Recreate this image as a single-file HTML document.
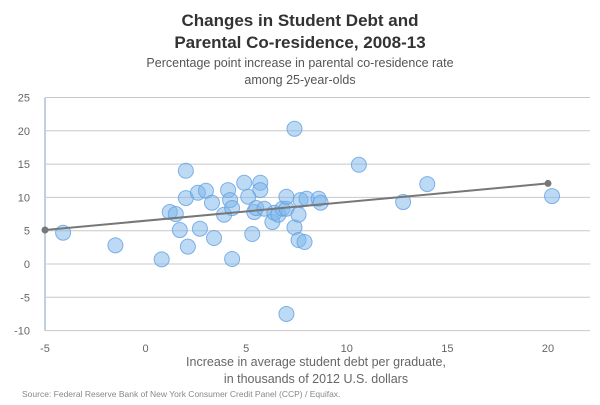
<!DOCTYPE html>
<html><head><meta charset="utf-8"><style>
body{margin:0;background:#fff;font-family:"Liberation Sans",sans-serif}
svg text{font-family:"Liberation Sans",sans-serif}
</style></head><body>
<svg width="600" height="400">
<text x="300" y="26" text-anchor="middle" font-size="17" font-weight="bold" fill="#333">Changes in Student Debt and</text>
<text x="300" y="48" text-anchor="middle" font-size="17" font-weight="bold" fill="#333">Parental Co-residence, 2008-13</text>
<text x="300" y="67" text-anchor="middle" font-size="12.5" fill="#555">Percentage point increase in parental co-residence rate</text>
<text x="300" y="84" text-anchor="middle" font-size="12.5" fill="#555">among 25-year-olds</text>
<g id="grid"></g><g id="ylab"></g><g id="xlab"></g><g id="marks"></g>
<text x="316" y="366" text-anchor="middle" font-size="12.5" fill="#666">Increase in average student debt per graduate,</text>
<text x="316" y="383" text-anchor="middle" font-size="12.5" fill="#666">in thousands of 2012 U.S. dollars</text>
<text x="22" y="397" font-size="8.5" fill="#888">Source: Federal Reserve Bank of New York Consumer Credit Panel (CCP) / Equifax.</text>
</svg>
<script>
const xTicks=[-5,0,5,10,15,20];
const yTicks=[25,20,15,10,5,0,-5,-10];
const xs=[-4.1,-1.5,0.8,1.2,1.5,1.7,2.0,2.0,2.1,2.6,2.7,3.0,3.3,3.4,3.9,4.1,4.2,4.3,4.3,4.9,5.1,5.3,5.4,5.5,5.7,5.7,5.9,6.3,6.4,6.6,6.8,7.0,7.0,7.0,7.4,7.4,7.6,7.6,7.7,7.9,8.0,8.6,8.7,10.6,12.8,14.0,20.2];
const ys=[4.7,2.8,0.7,7.8,7.5,5.1,14.0,9.9,2.6,10.7,5.3,11.0,9.2,3.9,7.4,11.1,9.6,8.4,0.75,12.2,10.1,4.5,7.8,8.4,12.2,11.1,8.3,6.3,7.7,7.4,8.3,8.3,10.1,-7.5,20.3,5.5,7.4,3.6,9.6,3.3,9.8,9.8,9.2,14.9,9.3,12.0,10.2];
const trendX=[-5,20];
const trendY=[5.1,12.1];
const NS="http://www.w3.org/2000/svg";
const X=v=>45+(v+5)*20.12;
const Y=v=>264-v*6.66;
function mk(p,t,a){const e=document.createElementNS(NS,t);for(const k in a)e.setAttribute(k,a[k]);document.getElementById(p).appendChild(e);return e;}
yTicks.forEach(t=>{
 const l=mk('grid','line',{x1:45,x2:590,y1:Y(t),y2:Y(t),stroke:'#c8c8c8','stroke-width':1});
 
 
 const tx=mk('ylab','text',{x:30,y:Y(t)+4,'text-anchor':'end','font-size':11,fill:'#666'});
 tx.textContent=t;
 
 
});
const ax=mk('grid','line',{x1:45,x2:45,y1:Y(25),y2:Y(-10),stroke:'#c0d0e0','stroke-width':2});


xTicks.forEach(t=>{
 const tx=mk('xlab','text',{x:X(t),y:352,'text-anchor':'middle','font-size':11,fill:'#666'});
 tx.textContent=t;
 
 
});
xs.forEach((v,i)=>{
 const c=mk('marks','circle',{cx:X(v),cy:Y(ys[i]),r:7.5,fill:'rgba(124,181,236,0.5)',stroke:'rgba(100,160,225,0.8)','stroke-width':1});
 
 
});
const tl=mk('marks','line',{x1:X(trendX[0]),y1:Y(trendY[0]),x2:X(trendX[1]),y2:Y(trendY[1]),stroke:'#777','stroke-width':2});


trendX.forEach((v,i)=>{
 const c=mk('marks','circle',{cx:X(v),cy:Y(trendY[i]),r:3.5,fill:'#777'});
 
 
});
</script>
</body></html>
